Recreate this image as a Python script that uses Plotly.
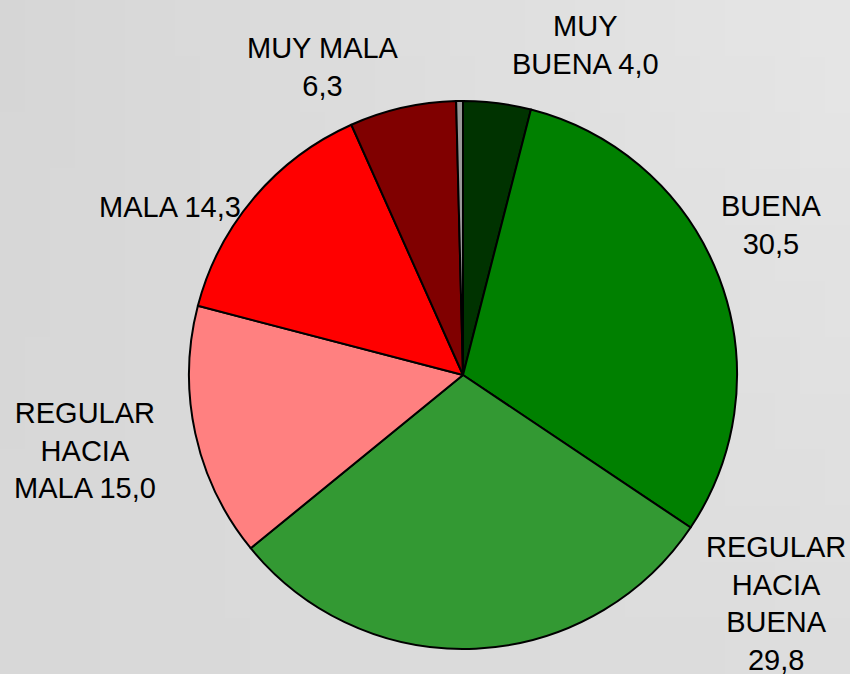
import plotly.graph_objects as go

# ---- data ----
categories = ["MUY BUENA", "BUENA", "REGULAR HACIA BUENA", "REGULAR HACIA MALA",
              "MALA", "MUY MALA", "NS/NC"]
values = [4.0, 30.5, 29.8, 15.0, 14.3, 6.3, 0.4]
label_text = ["MUY<br>BUENA", "BUENA<br>", "REGULAR<br>HACIA<br>BUENA<br>",
              "REGULAR<br>HACIA<br>MALA", "MALA", "MUY MALA<br>", None]
colors = ["#003300", "#008000", "#339933", "#FF8080", "#FF0000", "#800000", "#999999"]

# label placement (paper px) for each labelled slice
label_pos = [(585, 45), (771, 225), (776, 603), (85, 450), (170, 207), (323, 67), None]

W, H = 850, 674

fig = go.Figure()
fig.add_trace(go.Pie(
    labels=categories, values=values, sort=False, direction="clockwise", rotation=0,
    marker=dict(colors=colors, line=dict(color="black", width=2)),
    textinfo="none", showlegend=False,
    domain=dict(x=[189 / W, 737 / W], y=[1 - 649 / H, 1 - 101 / H]),
))

annotations = []
for lab, v, pos in zip(label_text, values, label_pos):
    if lab is None:
        continue
    vtxt = f"{v:.1f}".replace(".", ",")
    if lab.endswith("<br>"):
        txt = lab + vtxt
    else:
        txt = lab + " " + vtxt
    annotations.append(dict(
        x=pos[0] / W, y=1 - pos[1] / H, xref="paper", yref="paper",
        text=txt, showarrow=False, xanchor="center", yanchor="middle", align="center",
        font=dict(family="Liberation Sans, Arial, sans-serif", size=29, color="black"),
    ))

# background gradient
shapes = []
nx, ny = 34, 12
TL, TR, BL, BR = 214, 230, 216, 221
for i in range(nx):
    for j in range(ny):
        fx = (i + 0.5) / nx
        fy = (j + 0.5) / ny  # 0 bottom, 1 top
        c = (BL * (1 - fx) + BR * fx) * (1 - fy) + (TL * (1 - fx) + TR * fx) * fy
        c = int(round(c))
        shapes.append(dict(type="rect", xref="paper", yref="paper", layer="below",
                           x0=i / nx, x1=(i + 1) / nx + 0.002, y0=j / ny, y1=(j + 1) / ny + 0.002,
                           fillcolor=f"rgb({c},{c},{c})", line=dict(width=0)))

fig.update_layout(
    width=W, height=H, margin=dict(l=0, r=0, t=0, b=0),
    paper_bgcolor="#dedede", plot_bgcolor="#dedede",
    annotations=annotations, shapes=shapes,
)

fig.write_html("out.html", config={"displayModeBar": False},
               post_script="document.body.style.margin='0';document.body.style.padding='0';"
                           "document.body.style.background='#dedede';")
